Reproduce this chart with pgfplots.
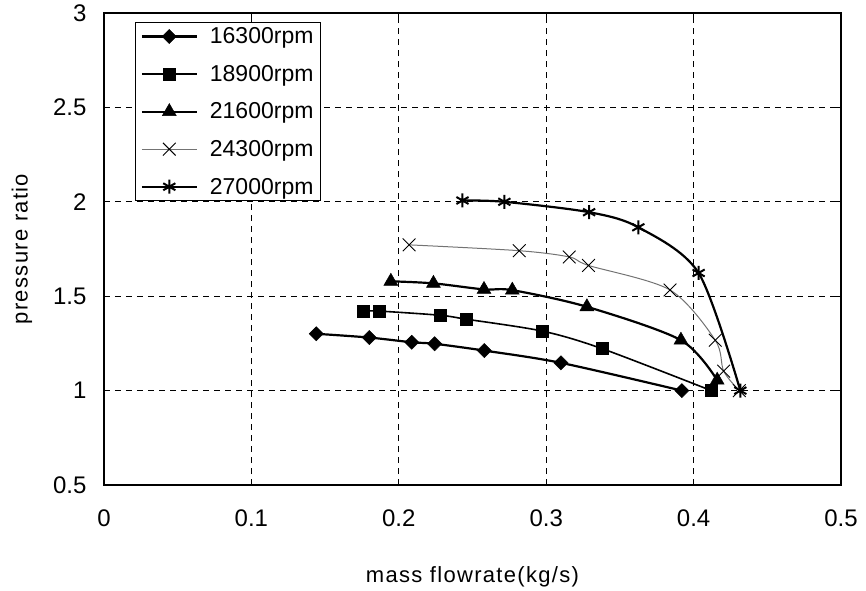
\documentclass[border=0pt]{standalone}
\usepackage{fontspec}
\setmainfont{Liberation Sans}
\newfontfamily\labelfont[LetterSpace=6]{Liberation Sans}
\usepackage{pgfplots}
\pgfplotsset{compat=1.18}
\begin{document}
\begin{tikzpicture}
\begin{axis}[
  scale only axis, width=737pt, height=472pt,
  xmin=0, xmax=0.5, ymin=0.5, ymax=3,
  xtick={0,0.1,0.2,0.3,0.4,0.5},
  ytick={0.5,1,1.5,2,2.5,3},
  ticklabel style={font=\fontsize{24}{28}\selectfont},
  xticklabel shift=21pt,
  yticklabel={\pgfmathprintnumber{\tick}\hspace*{14pt}},
  tick align=inside, major tick length=6pt,
  tick style={black, line width=1pt},
  grid=major,
  major grid style={black, dash pattern=on 6pt off 5pt, line width=1.1pt},
  axis line style={line width=2pt},
  xlabel={mass flowrate(kg/s)},
  ylabel={pressure ratio},
  label style={font=\labelfont\fontsize{22}{26}\selectfont},
  xlabel style={at={(axis description cs:0.5,-0.1949)}, anchor=center},
  ylabel style={at={(axis description cs:-0.1113,0.5)}, anchor=center},
  legend style={at={(0.042,0.981)}, anchor=north west, draw=black, line width=1.5pt,
    font=\fontsize{23}{27}\selectfont, inner xsep=5pt, inner ysep=3pt,
    row sep=16pt, column sep=10pt},
  legend cell align=left,
  legend image code/.code={\draw[mark repeat=2,mark phase=2] plot coordinates {(0pt,0pt) (27.5pt,0pt) (55pt,0pt)};},
  /pgf/number format/assume math mode=true,
]
\addplot[black, line width=2.2pt, smooth, tension=0.5, mark=square*, mark size=5pt,
  mark options={rotate=45, solid, line width=0.5pt}] coordinates {
  (0.144,1.301) (0.180,1.281) (0.2088,1.256) (0.2243,1.248) (0.258,1.212) (0.310,1.147) (0.392,1.0)};
\addlegendentry{16300rpm}
\addplot[black, line width=1.6pt, smooth, tension=0.5, mark=square*, mark size=6pt,
  mark options={solid, line width=0.5pt}] coordinates {
  (0.176,1.421) (0.187,1.421) (0.228,1.399) (0.246,1.378) (0.2975,1.315) (0.338,1.222) (0.412,1.0)};
\addlegendentry{18900rpm}
\addplot[black, line width=2.2pt, smooth, tension=0.5, mark=triangle*, mark size=8pt,
  mark options={solid, line width=0.5pt}] coordinates {
  (0.1946,1.579) (0.2235,1.568) (0.2578,1.536) (0.277,1.532) (0.3276,1.444) (0.3914,1.267) (0.416,1.055)};
\addlegendentry{21600rpm}
\addplot[black!55, line width=1pt, smooth, tension=0.5, mark=x, mark size=9pt,
  mark options={black, solid, line width=0.9pt}] coordinates {
  (0.2070,1.772) (0.2817,1.741) (0.3156,1.708) (0.3287,1.663) (0.384,1.533) (0.4147,1.267) (0.4204,1.103) (0.431,1.0)};
\addlegendentry{24300rpm}
\addplot[black, line width=2.2pt, smooth, tension=0.5, mark=asterisk, mark size=7pt,
  mark options={solid, line width=2pt}] coordinates {
  (0.2432,2.007) (0.2716,2.0) (0.3291,1.945) (0.3625,1.865) (0.4034,1.623) (0.4317,1.0)};
\addlegendentry{27000rpm}
\end{axis}
\pgfresetboundingbox
\path[use as bounding box] (-104pt,-105pt) rectangle (762pt,485pt);
\end{tikzpicture}
\end{document}
